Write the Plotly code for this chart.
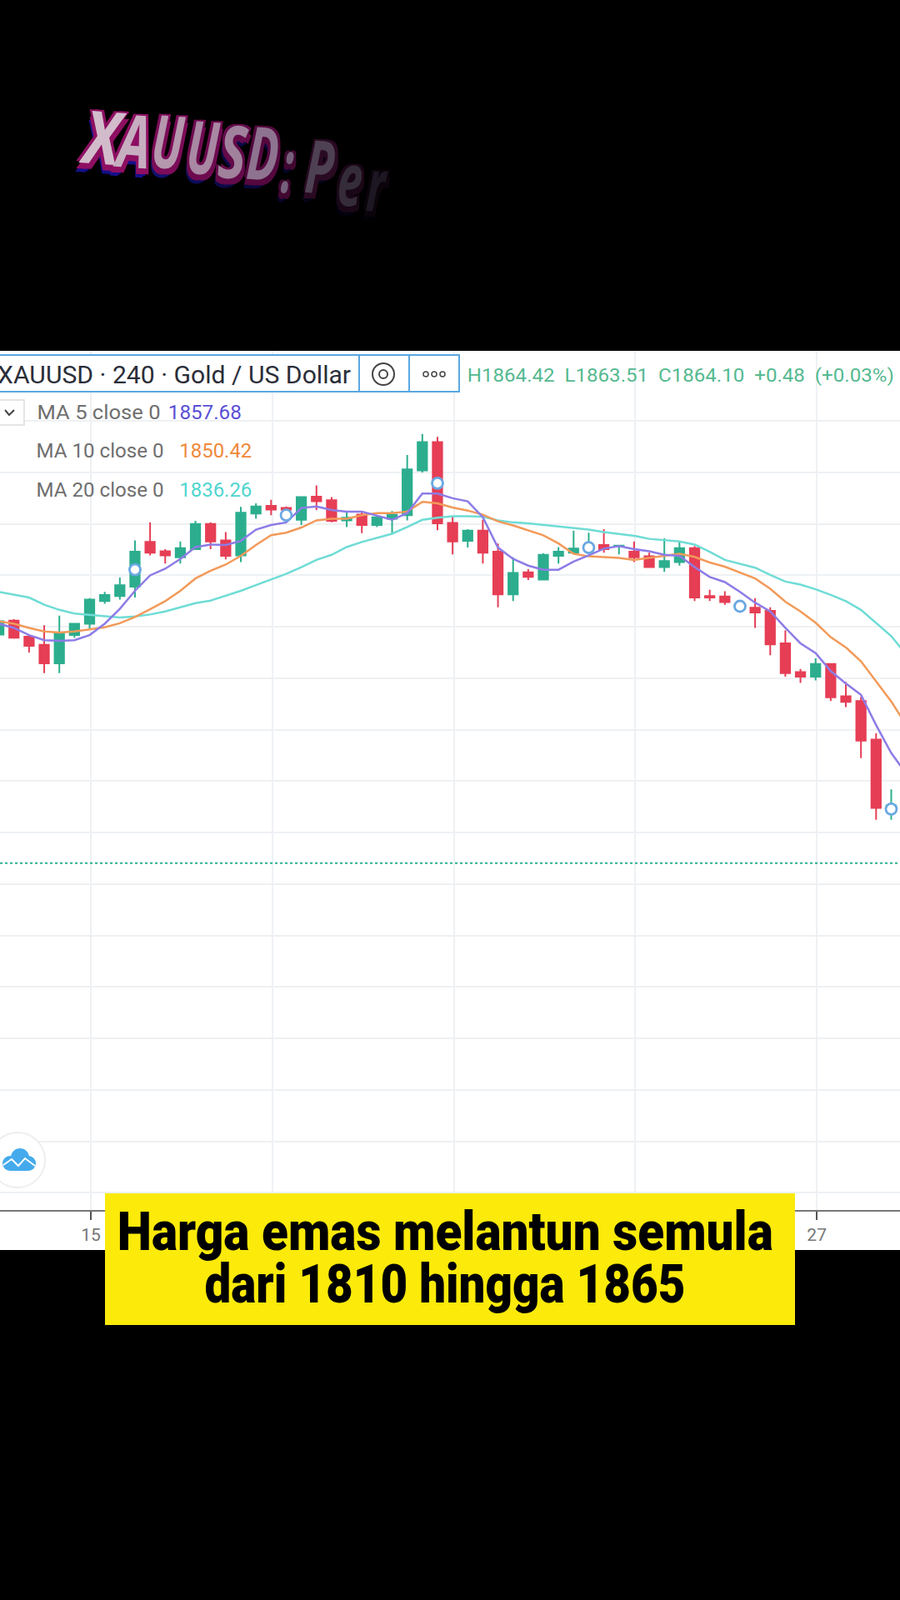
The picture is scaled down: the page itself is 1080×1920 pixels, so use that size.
import json
import plotly.graph_objects as go

# ---------- data (USD per ounce, 4h candles, index 0 = tick "15") ----------
idx = list(range(-6, 54))
open_ = [1908.5,1911.2,1908.1,1906.5,1902.9,1908.4,1910.6,1915.0,1916.0,1917.8,
         1926.5,1924.7,1923.5,1925.1,1930.0,1926.8,1923.9,1932.0,1933.5,1933.1,
         1930.8,1935.3,1934.6,1930.7,1931.8,1929.8,1931.0,1931.7,1940.4,1945.9,
         1930.2,1926.7,1928.7,1924.6,1916.3,1920.6,1919.2,1923.8,1924.4,1925.4,
         1925.9,1925.7,1924.6,1923.7,1921.6,1922.6,1925.3,1916.0,1915.9,1914.2,
         1913.7,1913.1,1906.8,1901.2,1900.3,1902.8,1896.5,1895.6,1888.1,1874.2]
high_ = [1911.4,1911.5,1908.4,1910.3,1912.2,1910.6,1915.6,1916.8,1919.6,1926.8,
         1930.3,1925.1,1926.6,1930.6,1930.3,1928.4,1933.3,1934.0,1934.7,1933.4,
         1935.3,1937.5,1935.2,1932.3,1932.3,1931.4,1932.5,1943.4,1947.5,1946.9,
         1931.4,1929.0,1930.8,1926.2,1923.5,1921.2,1924.3,1925.5,1928.7,1928.3,
         1929.0,1925.9,1926.6,1924.4,1927.2,1926.7,1925.7,1917.2,1916.9,1914.6,
         1915.6,1913.8,1909.3,1901.8,1903.9,1902.8,1899.3,1896.4,1889.3,1878.4]
low_ =  [1908.4,1907.7,1905.0,1901.0,1901.0,1907.9,1909.7,1914.5,1915.3,1915.7,
         1923.9,1922.3,1922.3,1925.1,1925.1,1923.1,1922.6,1931.0,1931.7,1932.1,
         1929.8,1932.7,1930.3,1929.4,1928.2,1929.4,1928.0,1930.7,1940.0,1928.8,
         1924.1,1925.4,1922.3,1913.8,1915.0,1919.1,1919.1,1922.3,1924.3,1924.3,
         1924.4,1924.1,1922.6,1921.5,1920.7,1921.9,1915.0,1915.0,1914.3,1913.3,
         1909.8,1904.5,1900.3,1899.1,1899.6,1895.6,1894.4,1884.5,1872.5,1872.5]
close_ = [1911.1,1907.9,1906.3,1902.9,1908.8,1910.6,1915.3,1916.2,1918.1,1924.6,
          1924.4,1923.9,1925.3,1930.0,1926.6,1923.8,1932.2,1933.4,1932.8,1932.8,
          1935.2,1934.4,1930.6,1931.2,1929.8,1931.3,1931.8,1940.6,1945.9,1930.1,
          1926.6,1928.7,1924.4,1916.3,1920.5,1919.7,1924.0,1924.6,1925.2,1925.8,
          1925.1,1925.8,1923.5,1921.6,1922.8,1925.3,1915.7,1915.7,1914.8,1913.8,
          1912.8,1906.6,1901.0,1900.3,1902.8,1896.3,1895.4,1887.9,1874.8,1875.3]

ma_idx = list(range(-6, 55))
ma5 = [1910.6,1909.8,1908.4,1907.4,1907.3,1907.4,1908.4,1910.6,1913.5,1917.0,
       1920.0,1921.3,1923.2,1925.5,1926.0,1925.9,1926.7,1928.9,1929.8,1930.3,
       1933.1,1933.4,1932.7,1932.4,1932.4,1931.6,1930.8,1932.1,1935.9,1935.9,
       1935.0,1934.4,1931.3,1925.4,1923.2,1921.9,1921.1,1921.1,1922.7,1923.9,
       1925.2,1925.7,1925.1,1924.7,1924.0,1923.8,1921.6,1919.7,1918.7,1916.8,
       1914.7,1913.0,1909.8,1906.8,1904.9,1901.4,1899.0,1896.8,1890.9,1885.5,1881.4]
ma10 = [1911.1,1910.6,1909.8,1909.1,1908.9,1909.1,1909.5,1909.9,1910.7,1911.9,
        1913.4,1915.0,1917.0,1919.4,1920.9,1922.1,1923.8,1925.9,1927.8,1928.3,
        1929.3,1930.7,1931.0,1931.0,1931.7,1932.1,1932.1,1932.4,1934.3,1934.0,
        1933.2,1932.6,1931.8,1930.5,1929.7,1928.7,1927.8,1926.2,1924.2,1923.7,
        1923.6,1923.4,1923.0,1923.4,1923.9,1924.2,1923.6,1922.5,1921.7,1920.5,
        1919.4,1917.4,1914.9,1913.0,1910.8,1908.0,1906.0,1903.3,1899.3,1895.5,1890.9]
ma20 = [1916.8,1916.2,1915.7,1914.3,1913.3,1912.6,1912.3,1912.0,1911.8,1912.0,
        1912.4,1913.0,1913.8,1914.6,1915.1,1916.0,1917.0,1918.1,1919.2,1920.3,
        1921.6,1923.0,1924.0,1925.5,1926.5,1927.3,1928.1,1929.4,1930.8,1931.2,
        1931.5,1931.5,1931.4,1930.7,1930.3,1930.1,1929.8,1929.6,1929.3,1928.9,
        1928.4,1928.1,1927.7,1927.1,1926.8,1926.6,1926.0,1924.6,1923.0,1922.2,
        1921.5,1920.1,1918.8,1918.2,1917.3,1916.2,1915.0,1913.3,1910.8,1908.2,1904.6]

marker_idx = [3, 13, 23, 33, 43, 53]
marker_val = [1921.1, 1931.7, 1937.9, 1925.4, 1914.0, 1874.6]

last_price = 1864.10
price_ticks = list(range(1800, 1960, 10))
time_ticks = [0.08, 12.08, 24.08, 36.08, 48.08]
time_labels = ["15", "", "", "", "27"]

legend_rows = [("MA 5 close 0", "1857.68", "#5a4fd6"),
               ("MA 10 close 0", "1850.42", "#f0893a"),
               ("MA 20 close 0", "1836.26", "#4fd6d0")]
ohlc_text = "H1864.42  L1863.51  C1864.10  +0.48  (+0.03%)"
symbol_text = "XAUUSD · 240 · Gold / US Dollar"
caption = ["Harga emas melantun semula", "dari 1810 hingga 1865"]

title_letters = ["X", "A", "U", "U", "S", "D", ":", "P", "e", "r"]
title_colors = ["#d2bccb", "#c6aec0", "#b597ae", "#a888a3", "#a0829c", "#8e7390",
                "#75607a", "#4e4153", "#352c3a", "#1c1722"]
title_shadow = ["#8e0f62", "#8e0f62", "#7c0c58", "#6e0b50", "#640a4a", "#54083e",
                "#400830", "#2a0a22", "#1a0716", "#0c040b"]
title_blue = ["#14108a", "#14108a", "#10106e", "#0d0d5a", "#0a0a4a", "#08083a",
              "#050528", "#040418", "#020210", "#010106"]

# ---------- helpers ----------
W, H = 1080, 1920
PLOT_TOP, PLOT_BOTTOM = 421, 1452
def X(px): return px / W
def Y(py): return 1 - py / H
def xd(px): return px / W
def yd(py): return (PLOT_BOTTOM - py) / (PLOT_BOTTOM - PLOT_TOP)

def rect(x0, y0, x1, y1, fill, line=None, lw=0, layer="above"):
    return dict(type="rect", xref="paper", yref="paper", x0=X(x0), x1=X(x1), y0=Y(y0), y1=Y(y1),
                fillcolor=fill, line=dict(color=line or fill, width=lw), layer=layer)
def circle(cx, cy, r, fill, line, lw):
    return dict(type="circle", xref="paper", yref="paper", x0=X(cx-r), x1=X(cx+r), y0=Y(cy-r), y1=Y(cy+r),
                fillcolor=fill, line=dict(color=line, width=lw), layer="above")
def poly(points, color, lw):
    d = "M " + " L ".join(f"{X(a):.5f},{Y(b):.5f}" for a, b in points)
    return dict(type="path", xref="paper", yref="paper", path=d, line=dict(color=color, width=lw), layer="above")
def label(px, py, text, size, color, family="Roboto", angle=0, weight=400, style="normal"):
    return dict(x=X(px), y=Y(py), xref="paper", yref="paper", text=text, showarrow=False,
                xanchor="center", yanchor="middle", textangle=angle,
                font=dict(size=size, color=color, family=family, weight=weight, style=style))

fig = go.Figure()
fig.add_trace(go.Scatter(x=ma_idx, y=ma20, mode="lines", line=dict(color="#6fdcd6", width=2.5)))
fig.add_trace(go.Candlestick(x=idx, open=open_, high=high_, low=low_, close=close_,
                             increasing=dict(line=dict(color="#2cae8e", width=2), fillcolor="#2cae8e"),
                             decreasing=dict(line=dict(color="#e63e55", width=2), fillcolor="#e63e55"),
                             whiskerwidth=0))
fig.add_trace(go.Scatter(x=ma_idx, y=ma10, mode="lines", line=dict(color="#f29a5a", width=2.5)))
fig.add_trace(go.Scatter(x=ma_idx, y=ma5, mode="lines", line=dict(color="#8d7ce6", width=2.5)))
fig.add_trace(go.Scatter(x=marker_idx, y=marker_val, mode="markers",
                         marker=dict(size=13, color="white", line=dict(color="#6aa8e2", width=2.8))))

shapes = [
    rect(0, PLOT_TOP, W, 1500, "white", layer="below"),
    dict(type="rect", xref="x domain", yref="y domain", x0=0, x1=xd(312), y0=yd(610), y1=1,
         fillcolor="rgba(255,255,255,0.8)", line=dict(width=0), layer="below"),
    dict(type="line", xref="paper", yref="y", x0=0, x1=1, y0=last_price, y1=last_price,
         line=dict(color="#2cae8e", width=2, dash="dot"), layer="above"),
    rect(-4, 426, 551, 470, "white", "#5aa7e2", 2),
    poly([(431, 426), (431, 470)], "#5aa7e2", 2),
    poly([(491, 426), (491, 470)], "#5aa7e2", 2),
    circle(460, 449, 13, "white", "#444444", 2),
    circle(460, 449, 5, "white", "#444444", 2),
    circle(511, 449, 3, "white", "#444444", 1.5),
    circle(521, 449, 3, "white", "#444444", 1.5),
    circle(531, 449, 3, "white", "#444444", 1.5),
    rect(-4, 480, 29, 510, "white", "#dddddd", 1.5),
    poly([(6, 492), (11, 498), (17, 492)], "#444444", 2),
    circle(21, 1392, 33, "white", "#eeeeee", 2),
    circle(12, 1396, 9, "#45aaec", "#45aaec", 0),
    circle(24, 1389, 11, "#45aaec", "#45aaec", 0),
    circle(34, 1396, 9, "#45aaec", "#45aaec", 0),
    rect(12, 1396, 34, 1405, "#45aaec"),
    poly([(4, 1398), (14, 1391), (22, 1399), (30, 1390), (42, 1399)], "white", 2),
    rect(126, 1432, 954, 1590, "#fbea0a"),
]

annotations = [
    label(209, 449, symbol_text, 30, "#2a2e39"),
    label(817, 451, ohlc_text, 22, "#55b990"),
]
for row, py, lx, vx in zip(legend_rows, [495, 541, 588], [118, 120, 120], [246, 259, 259]):
    annotations.append(label(lx, py, row[0], 23, "#6f6f6f"))
    annotations.append(label(vx, py, row[1], 23, row[2]))
annotations.append(label(534, 1478, caption[0], 64, "black", weight=900))
annotations.append(label(534, 1541, caption[1], 64, "black", weight=900))

title_x = [123, 158, 202, 244, 280, 316, 345, 385, 420, 453]
title_y = [163, 167, 168, 175, 180, 182, 197, 198, 213, 220]
layers = [(-4, 11, title_blue), (-1, 9, title_blue),
          (-3, -2, title_shadow), (3, -2, title_shadow), (-3, 7, title_shadow), (3, 7, title_shadow),
          (0, 0, title_colors)]
for dx, dy, colors in layers:
    for ch, x0, y0, c in zip(title_letters, title_x, title_y, colors):
        annotations.append(label(x0+dx, y0+dy, ch, 88, c, family="Noto Sans", angle=4,
                                 weight=700, style="italic"))

fit_widths = {
    symbol_text: 424, ohlc_text: 512, "MA 5 close 0": 148, "MA 10 close 0": 153, "MA 20 close 0": 153,
    "1857.68": 88, "1850.42": 87, "1836.26": 87, caption[0]: 787, caption[1]: 577,
    "X": 44, "A": 40, "U": 38, "S": 34, "D": 38, ":": 14, "P": 34, "e": 30, "r": 22,
}

fig.update_layout(
    width=W, height=H, margin=dict(l=0, r=0, t=0, b=0), paper_bgcolor="black", plot_bgcolor="white",
    showlegend=False, shapes=shapes, annotations=annotations, boxgap=0.38, boxgroupgap=0,
    xaxis=dict(range=[-5.923, 53.58], tickmode="array", tickvals=time_ticks, ticktext=time_labels,
               showgrid=True, gridcolor="#eef1f4", gridwidth=2, zeroline=False, rangeslider=dict(visible=False),
               ticks="outside", ticklen=10, tickcolor="#555555", tickwidth=2, showline=True, linecolor="#777777",
               linewidth=2, tickfont=dict(size=21, color="#777777", family="Roboto"), anchor="y"),
    yaxis=dict(domain=[Y(PLOT_BOTTOM), Y(PLOT_TOP)], range=[1796.67, 1963.64], tickmode="array",
               tickvals=price_ticks, showticklabels=False, showgrid=True, gridcolor="#eef1f4", gridwidth=2,
               zeroline=False, ticks=""),
)

js = """
document.body.style.margin='0';document.body.style.background='black';document.body.style.overflow='hidden';
var fitW = %s;
function applyFit(){document.querySelectorAll('text.annotation-text').forEach(function(t){
  var w = fitW[t.textContent]; if(w){t.setAttribute('textLength', w); t.setAttribute('lengthAdjust','spacingAndGlyphs');}
});}
applyFit(); setTimeout(applyFit, 50); setTimeout(applyFit, 300);
""" % json.dumps(fit_widths)
fig.write_html("out.html", config=dict(displayModeBar=False), post_script=js)
